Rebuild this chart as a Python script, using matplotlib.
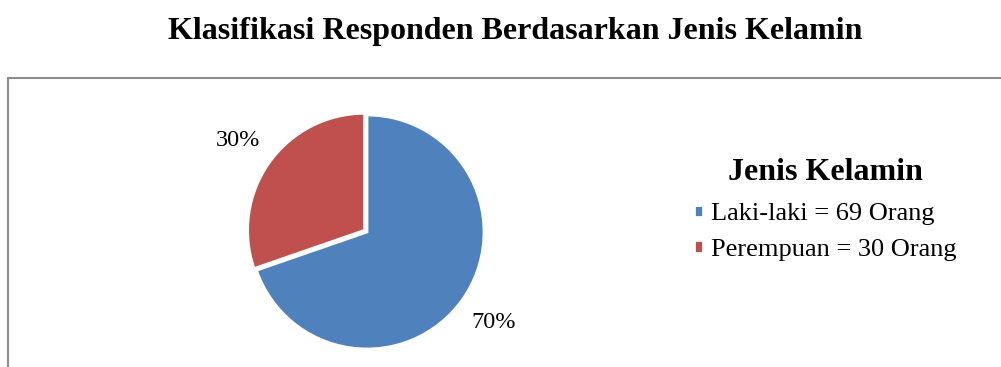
import matplotlib.pyplot as plt
from matplotlib.patches import Rectangle

# data
labels = ["Laki-laki = 69 Orang", "Perempuan = 30 Orang"]
values = [69, 30]
colors = ["#4F81BD", "#C0504D"]

plt.rcParams['font.family'] = ['Liberation Serif', 'DejaVu Serif']

W, H = 1001, 367
fig = plt.figure(figsize=(W/100, H/100), dpi=100)

# title
fig.text(515/W, 1 - 31/H, "Klasifikasi Responden Berdasarkan Jenis Kelamin",
         ha='center', va='center', fontsize=23, fontweight='bold')

# chart border
fig.patches.append(Rectangle((8/W, -0.05), 1.1, (H - 78)/H + 0.05,
                             transform=fig.transFigure, fill=False,
                             edgecolor='#8c8c8c', linewidth=1.5))

# pie
cx, cy, r = 367, 232, 117
ax = fig.add_axes([(cx - r)/W, (H - cy - r)/H, 2*r/W, 2*r/H])
wedges, texts, autotexts = ax.pie(values, colors=colors, startangle=90,
                                  counterclock=False, explode=[0, 0.025],
                                  autopct='%1.0f%%', pctdistance=1.33,
                                  wedgeprops=dict(edgecolor='white', linewidth=2),
                                  textprops=dict(fontsize=17.5))
ax.set_xlim(-1, 1)
ax.set_ylim(-1, 1)
ax.set_aspect('auto')
ax.axis('off')

leg = fig.legend(wedges, labels, loc='upper left', bbox_to_anchor=(670/W, 1 - 134/H),
                 frameon=False, fontsize=19, title="Jenis Kelamin",
                 title_fontproperties=dict(size=23, weight='bold'),
                 handlelength=0.35, handleheight=0.35, handletextpad=0.3,
                 labelspacing=0.52)
leg._legend_box.sep += 2

fig.savefig("out.png", dpi=100)
